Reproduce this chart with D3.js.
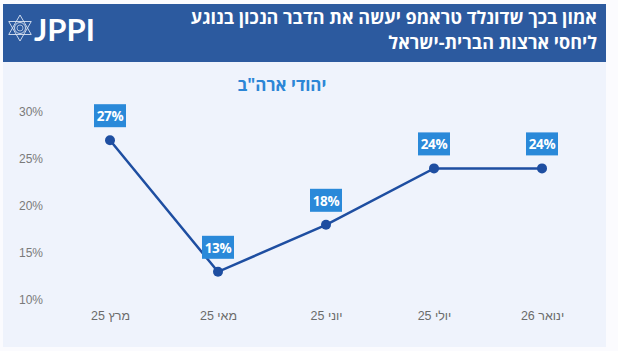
<!DOCTYPE html>
<html>
<head>
<meta charset="utf-8">
<script src="https://cdn.jsdelivr.net/npm/d3@7"></script>
<style>
  body { margin: 0; background: #fbfbfe; }
  svg { display: block; font-family: "Open Sans", "Liberation Sans", "DejaVu Sans", sans-serif; }
</style>
</head>
<body>
<div id="chart"></div>
<script>
// data
const categories = ["מרץ 25", "מאי 25", "יוני 25", "יולי 25", "ינואר 26"];
const values = [27, 13, 18, 24, 24];
const yTicks = [10, 15, 20, 25, 30];
const titleLines = ["אמון בכך שדונלד טראמפ יעשה את הדבר הנכון בנוגע", "ליחסי ארצות הברית-ישראל"];
const subtitle = "יהודי ארה\"ב";

const width = 618, height = 351;

const svg = d3.select("#chart").append("svg")
    .attr("width", width)
    .attr("height", height);

// background panels
svg.append("rect").attr("x", 0).attr("y", 0).attr("width", width).attr("height", height).attr("fill", "#fbfbfe");
svg.append("rect").attr("x", 3).attr("y", 62).attr("width", 603).attr("height", 285).attr("fill", "#eff3fc");
svg.append("rect").attr("x", 3).attr("y", 4).attr("width", 603).attr("height", 58).attr("fill", "#2c5a9f");

// logo
const logo = svg.append("g").attr("transform", "translate(20,28)");
const r = 13;
const tri = a => d3.range(3).map(i => {
    const t = a + i * 2 * Math.PI / 3;
    return [r * Math.cos(t), r * Math.sin(t)];
});
logo.append("polygon").attr("points", tri(-Math.PI / 2).join(" "))
    .attr("fill", "none").attr("stroke", "#dbe4f3").attr("stroke-width", 0.9);
logo.append("polygon").attr("points", tri(Math.PI / 2).join(" "))
    .attr("fill", "none").attr("stroke", "#dbe4f3").attr("stroke-width", 0.9);
logo.append("circle").attr("r", 5.5).attr("fill", "none").attr("stroke", "#dbe4f3").attr("stroke-width", 0.9);
logo.append("circle").attr("r", 3).attr("fill", "none").attr("stroke", "#dbe4f3").attr("stroke-width", 0.7);
svg.append("text").attr("x", 34).attr("y", 41)
    .text("JPPI")
    .style("font-family", "Lato, 'Open Sans', sans-serif")
    .style("font-weight", "700")
    .style("font-size", "31px")
    .style("fill", "#fff");

// title
svg.append("g").selectAll("text").data(titleLines).join("text")
    .attr("x", 597)
    .attr("y", (d, i) => 24 + i * 25)
    .attr("text-anchor", "end")
    .style("font-weight", "700")
    .style("font-size", "18px")
    .style("fill", "#fff")
    .text(d => d);

// subtitle
svg.append("text")
    .attr("x", 282).attr("y", 91)
    .attr("text-anchor", "middle")
    .attr("direction", "rtl")
    .style("font-weight", "700")
    .style("font-size", "17px")
    .style("fill", "#2c86d6")
    .text(subtitle);

// scales
const x = d3.scalePoint().domain(categories).range([110, 542]);
const y = d3.scaleLinear().domain([10, 30]).range([300, 112]);

// axes
const yAxis = svg.append("g")
    .attr("transform", "translate(46,0)")
    .call(d3.axisLeft(y).tickValues(yTicks).tickSize(0).tickFormat(d => d + "%"));
yAxis.select(".domain").remove();
yAxis.selectAll("text").style("font-size", "12px").style("fill", "#7a7a7a").attr("dx", "0");

const xAxis = svg.append("g")
    .attr("transform", "translate(0,308)")
    .call(d3.axisBottom(x).tickSize(0));
xAxis.select(".domain").remove();
xAxis.selectAll("text").style("font-size", "12.5px").style("fill", "#6b6b6b").attr("direction", "rtl");

// line
const pts = categories.map((c, i) => ({ c, v: values[i] }));
svg.append("path")
    .datum(pts)
    .attr("fill", "none")
    .attr("stroke", "#1e4ea1")
    .attr("stroke-width", 2.5)
    .attr("d", d3.line().x(d => x(d.c)).y(d => y(d.v)));

svg.append("g").selectAll("circle").data(pts).join("circle")
    .attr("cx", d => x(d.c))
    .attr("cy", d => y(d.v))
    .attr("r", 5)
    .attr("fill", "#1e4ea1");

// value labels
const lab = svg.append("g").selectAll("g").data(pts).join("g")
    .attr("transform", d => `translate(${x(d.c)},${y(d.v) - 24})`);
lab.append("rect")
    .attr("x", -16).attr("y", -12)
    .attr("width", 32).attr("height", 23)
    .attr("fill", "#2a89d9");
lab.append("text")
    .attr("text-anchor", "middle")
    .attr("dy", "0.36em")
    .style("font-weight", "700")
    .style("font-size", "13.5px")
    .style("letter-spacing", "-0.3px")
    .style("fill", "#fff")
    .text(d => d.v + "%");
</script>
</body>
</html>
